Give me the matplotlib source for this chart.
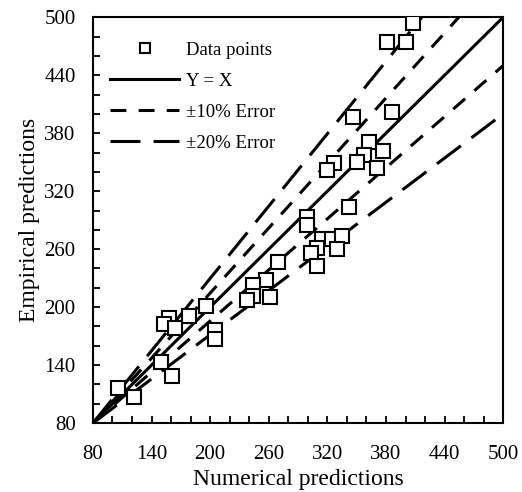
import numpy as np
import matplotlib.pyplot as plt
from matplotlib.ticker import MultipleLocator

plt.rcParams['font.family'] = ['Liberation Serif', 'DejaVu Serif']

# numerical vs empirical predictions
numerical = [408, 381, 400, 346, 386, 363, 377, 357, 350, 371, 327, 320,
             342, 299, 299, 315, 325, 335, 309, 303, 330, 309, 269, 257,
             244, 244, 238, 261, 196, 178, 158, 153, 164, 205, 205, 150,
             161, 106, 122]
empirical = [494, 474, 474, 397, 402, 371, 362, 357, 350, 344, 349, 342,
             304, 293, 285, 270, 270, 274, 261, 256, 260, 243, 247, 228,
             223, 212, 207, 210, 201, 191, 189, 183, 178, 176, 167, 143,
             129, 116, 107]

# reference lines: all start at the lower-left corner
line_x = {'yx': [80, 500], 'p10': [80, 500 / 1.1], 'm10': [80, 500],
          'p20': [80, 500 / 1.2], 'm20': [80, 500]}
line_y = {'yx': [80, 500], 'p10': [80, 500], 'm10': [80, 450],
          'p20': [80, 500], 'm20': [80, 400]}

lim = (80, 500)
ticks = np.arange(80, 501, 60)

fig = plt.figure(figsize=(5.22, 4.92), dpi=100)
ax = fig.add_axes([0.178, 0.140, 0.786, 0.825])

ax.plot(numerical, empirical, 's', ms=10, mfc='white', mec='black', mew=1.5,
        linestyle='none', label='Data points', zorder=5)
ax.plot(line_x['yx'], line_y['yx'], '-', color='black', lw=2.2, label='Y = X')
short = (5.2, 4.0)
long_ = (9.8, 4.3)
ax.plot(line_x['p10'], line_y['p10'], color='black', lw=2.2, dashes=short,
        label='±10% Error')
ax.plot(line_x['m10'], line_y['m10'], color='black', lw=2.2, dashes=short)
ax.plot(line_x['p20'], line_y['p20'], color='black', lw=2.2, dashes=long_,
        label='±20% Error')
ax.plot(line_x['m20'], line_y['m20'], color='black', lw=2.2, dashes=long_)

ax.set_xlim(*lim)
ax.set_ylim(*lim)
ax.set_xticks(ticks)
ax.set_yticks(ticks)
ax.xaxis.set_minor_locator(MultipleLocator(20))
ax.yaxis.set_minor_locator(MultipleLocator(20))
ax.tick_params(which='both', direction='in', top=False, right=False,
               labelsize=15, width=1.3, length=5)
ax.tick_params(axis='x', which='both', pad=16)
ax.tick_params(axis='y', which='both', pad=12.5)
for s in ax.spines.values():
    s.set_linewidth(1.5)

ax.set_xlabel('Numerical predictions', fontsize=17, labelpad=3)
ax.set_ylabel('Empirical predictions', fontsize=17, labelpad=3)

ax.legend(loc='upper left', bbox_to_anchor=(0.023, 0.958), borderaxespad=0,
          frameon=False, fontsize=13.5, handlelength=3.7, markerscale=0.7,
          labelspacing=0.74, handletextpad=0.35)

fig.savefig('out.png', dpi=100)
